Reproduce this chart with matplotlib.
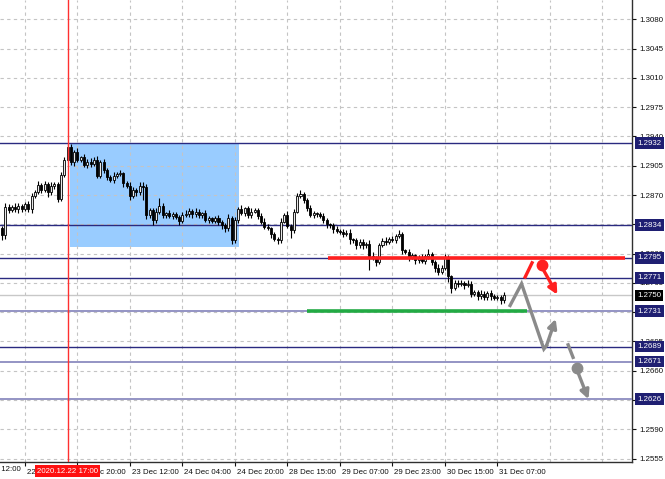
import matplotlib.pyplot as plt
import matplotlib.transforms as mtransforms
from matplotlib.patches import Rectangle, FancyArrowPatch

# === Data: hourly candles (index = bar number) ===
first_open = 1.2830
closes = [
    1.2822, 1.2856, 1.2852, 1.2856, 1.2853, 1.2857, 1.2853, 1.2859, 1.2853, 1.2869,
    1.2873, 1.2882, 1.2876, 1.2883, 1.2873, 1.2881, 1.2883, 1.2865, 1.2894, 1.2912,
    1.2927, 1.2909, 1.2921, 1.2912, 1.2915, 1.2906, 1.2910, 1.2907, 1.2912, 1.2893,
    1.2909, 1.2900, 1.2891, 1.2888, 1.2893, 1.2895, 1.2896, 1.2884, 1.2881, 1.2869,
    1.2876, 1.2873, 1.2881, 1.2880, 1.2846, 1.2852, 1.2840, 1.2850, 1.2857, 1.2846,
    1.2848, 1.2845, 1.2847, 1.2844, 1.2839, 1.2846, 1.2847, 1.2851, 1.2847, 1.2850,
    1.2846, 1.2848, 1.2840, 1.2842, 1.2839, 1.2842, 1.2838, 1.2834, 1.2830, 1.2842,
    1.2816, 1.2840, 1.2853, 1.2848, 1.2854, 1.2846, 1.2850, 1.2852, 1.2845, 1.2838,
    1.2832, 1.2830, 1.2823, 1.2818, 1.2816, 1.2838, 1.2846, 1.2833, 1.2828, 1.2850,
    1.2869, 1.2871, 1.2864, 1.2854, 1.2846, 1.2848, 1.2847, 1.2845, 1.2840, 1.2835,
    1.2834, 1.2829, 1.2827, 1.2826, 1.2824, 1.2825, 1.2817, 1.2816, 1.2810, 1.2814,
    1.2810, 1.2812, 1.2797, 1.2795, 1.2790, 1.2810, 1.2815, 1.2814, 1.2817, 1.2816,
    1.2821, 1.2823, 1.2804, 1.2802, 1.2796, 1.2798, 1.2792, 1.2795, 1.2791, 1.2797,
    1.2799, 1.2790, 1.2783, 1.2778, 1.2783, 1.2795, 1.2773, 1.2759, 1.2765, 1.2764,
    1.2765, 1.2762, 1.2764, 1.2752, 1.2754, 1.2749, 1.2752, 1.2748, 1.2753, 1.2749,
    1.2747, 1.2748, 1.2744, 1.2750,
]
# wick lengths in pips beyond the body
wick_up = [
    3, 4, 3, 2, 4, 3, 2, 3, 4, 3,
    3, 5, 2, 4, 3, 4, 3, 2, 3, 4,
    5, 4, 3, 5, 2, 4, 3, 4, 3, 5,
    3, 4, 2, 3, 5, 3, 4, 2, 3, 4,
    3, 2, 4, 4, 3, 3, 2, 4, 10, 3,
    2, 4, 3, 3, 2, 4, 5, 3, 2, 4,
    3, 2, 4, 3, 2, 3, 4, 2, 3, 5,
    3, 4, 3, 5, 2, 3, 4, 3, 2, 3,
    4, 3, 2, 3, 2, 4, 3, 5, 2, 3,
    4, 5, 3, 2, 4, 3, 2, 3, 4, 3,
    2, 3, 4, 2, 3, 3, 4, 2, 3, 4,
    3, 2, 4, 5, 2, 3, 4, 5, 3, 4,
    3, 5, 3, 2, 4, 3, 2, 3, 4, 3,
    6, 3, 2, 4, 3, 4, 3, 2, 3, 4,
    3, 2, 4, 3, 3, 2, 4, 3, 2, 3,
    3, 2, 3, 4,
]
wick_dn = [
    6, 4, 3, 2, 3, 4, 3, 2, 3, 4,
    3, 2, 4, 3, 5, 3, 4, 3, 2, 3,
    2, 3, 4, 3, 2, 3, 4, 3, 2, 3,
    3, 4, 3, 2, 4, 3, 2, 4, 3, 5,
    3, 4, 3, 16, 5, 3, 6, 4, 3, 4,
    3, 2, 4, 3, 5, 3, 2, 3, 4, 3,
    4, 3, 2, 4, 3, 3, 4, 5, 4, 3,
    5, 3, 4, 2, 3, 4, 3, 2, 4, 3,
    3, 2, 4, 3, 4, 3, 2, 3, 9, 3,
    2, 3, 4, 3, 2, 4, 3, 2, 3, 4,
    3, 4, 2, 3, 4, 3, 5, 3, 4, 3,
    4, 3, 16, 3, 5, 3, 2, 4, 3, 2,
    3, 2, 4, 3, 5, 3, 4, 3, 2, 4,
    3, 4, 5, 3, 2, 3, 7, 6, 3, 4,
    3, 4, 2, 4, 3, 5, 3, 4, 3, 4,
    3, 2, 4, 3,
]

time_ticks = [-9, 7, 23, 39, 55, 71, 87, 103, 119, 135, 151]
time_labels = ["21 Dec 12:00", "22 Dec 04:00", "22 Dec 20:00", "23 Dec 12:00",
               "24 Dec 04:00", "24 Dec 20:00", "28 Dec 15:00", "29 Dec 07:00",
               "29 Dec 23:00", "30 Dec 15:00", "31 Dec 07:00"]
extra_grid_times = [167, 183]
price_ticks = [1.3080, 1.3045, 1.3010, 1.2975, 1.2940, 1.2905, 1.2870, 1.2835,
               1.2800, 1.2765, 1.2730, 1.2695, 1.2660, 1.2625, 1.2590, 1.2555]

levels = [1.2932, 1.2834, 1.2795, 1.2771, 1.2731, 1.2689, 1.2671, 1.2626]
levels_light = [1.2731, 1.2671, 1.2626]
bid_price = 1.2750

marker_bar = 20
marker_label = "2020.12.22 17:00"

zone_bars = (20.7, 72.3)
zone_prices = (1.2808, 1.2932)

red_level, red_bars = 1.2795, (99.4, 190.0)
green_level, green_bars = 1.2731, (93.0, 160.0)

# forecast drawings (bar, price)
gray_path_x = [154.9, 158.4, 165.2, 166.0]
gray_path_y = [1.2738, 1.2764, 1.2686, 1.2690]
gray_arrow1 = ((166.0, 1.2690), (168.8, 1.2722))
red_dash = ((159.5, 1.2772), (161.6, 1.2789))
red_dot = (164.6, 1.2786)
red_arrow = ((165.0, 1.2781), (169.3, 1.2751))
gray_dash = ((172.6, 1.2691), (174.1, 1.2676))
gray_dot = (175.3, 1.2663)
gray_arrow2 = ((175.6, 1.2658), (178.8, 1.2626))

# === Figure ===
fig = plt.figure(figsize=(6.65, 4.79), dpi=100)
ax = fig.add_axes([0, 17 / 479, 632 / 665, 462 / 479])

navy = '#1f1f72'
grid_kw = dict(color='#c4c4c4', lw=0.8, ls=(0, (3, 3)), zorder=1)
for t in time_ticks + extra_grid_times:
    ax.axvline(t, **grid_kw)
for p in price_ticks:
    ax.axhline(p, **grid_kw)

# selection zone
ax.add_patch(Rectangle((zone_bars[0], zone_prices[0]), zone_bars[1] - zone_bars[0],
                       zone_prices[1] - zone_prices[0], facecolor='#99ccff',
                       edgecolor='none', zorder=0.5))

# bid line
ax.axhline(bid_price, color='#c8c8c8', lw=1, zorder=1.5)

# candles
opens = [first_open] + closes[:-1]
for i, (o, c) in enumerate(zip(opens, closes)):
    hi = max(o, c) + wick_up[i] * 0.0001
    lo = min(o, c) - wick_dn[i] * 0.0001
    ax.vlines(i, lo, hi, color='black', lw=0.8, zorder=4)
    h = max(abs(c - o), 0.00005)
    ax.bar(i, h, bottom=min(o, c), width=0.62,
           facecolor='#e8e8e8' if c >= o else 'black',
           edgecolor='black', linewidth=0.6, zorder=4.5)

# horizontal levels
for lv in levels:
    if lv in levels_light:
        ax.axhline(lv, color='#9494c4', lw=1.4, zorder=3)
    else:
        ax.axhline(lv, color='#2a2a80', lw=1.0, zorder=3)

ax.plot(red_bars, [red_level] * 2, color='#ff2020', lw=2.6, zorder=5,
        solid_capstyle='butt')
ax.plot(green_bars, [green_level] * 2, color='#22aa44', lw=2.6, zorder=5,
        solid_capstyle='butt')

# vertical marker
ax.axvline(marker_bar, color='#ff3030', lw=1, zorder=5)

# forecast drawings
gray = '#8a8a8a'
ax.plot(gray_path_x, gray_path_y, color=gray, lw=2.4, zorder=6,
        solid_joinstyle='miter')
for (a, b), col in [(gray_arrow1, gray), (red_arrow, '#ff2020'), (gray_arrow2, gray)]:
    ax.add_patch(FancyArrowPatch(a, b, arrowstyle='-|>', mutation_scale=13,
                                 color=col, lw=2.4, zorder=6, shrinkA=0, shrinkB=0))
ax.plot([red_dash[0][0], red_dash[1][0]], [red_dash[0][1], red_dash[1][1]],
        color='#ff2020', lw=2.4, zorder=6)
ax.plot([gray_dash[0][0], gray_dash[1][0]], [gray_dash[0][1], gray_dash[1][1]],
        color=gray, lw=2.4, zorder=6)
ax.plot(*red_dot, 'o', color='#ff2020', ms=7.5, zorder=7)
ax.plot(*gray_dot, 'o', color=gray, ms=7.5, zorder=7)

# === Axes styling ===
for side in ['left', 'top']:
    ax.spines[side].set_visible(False)
for side in ['right', 'bottom']:
    ax.spines[side].set_color('#303030')
    ax.spines[side].set_linewidth(1)

font = 'Liberation Sans'
fs = 5.7
ax.yaxis.tick_right()
ax.set_yticks(price_ticks)
ax.set_yticklabels([f'{p:.4f}' for p in price_ticks], fontsize=fs, family=font)
ax.tick_params(axis='y', length=3, width=0.8, pad=2, colors='#101010')

# visible time ticks get axis labels; the first one sits left of the frame
ax.set_xticks(time_ticks[1:])
ax.set_xticklabels(time_labels[1:], fontsize=fs, family=font, ha='left')
ax.tick_params(axis='x', length=3, width=0.8, pad=2, colors='#101010')
offset = mtransforms.ScaledTranslation(2 / 100, 0, fig.dpi_scale_trans)
for lab in ax.get_xticklabels():
    lab.set_transform(lab.get_transform() + offset)

# limits after the ticks, so they are not widened
ax.set_xlim(-0.61, 192.07)
ax.set_ylim(1.2551, 1.3103)

xtrans = mtransforms.blended_transform_factory(ax.transData, ax.transAxes)
ax.text(time_ticks[0], -0.0095, time_labels[0], transform=xtrans + offset,
        fontsize=fs, family=font, color='#101010', va='top', ha='left',
        clip_on=False)

# price boxes on the right scale
ytrans = mtransforms.blended_transform_factory(ax.transAxes, ax.transData)
box_x = 1 + 5 / 632
for lv in levels:
    ax.text(box_x, lv, f'{lv:.4f}', transform=ytrans, fontsize=fs, family=font,
            color='white', va='center', ha='left', clip_on=False, zorder=10,
            bbox=dict(boxstyle='square,pad=0.3', fc=navy, ec='none'))
ax.text(box_x, bid_price, f'{bid_price:.4f}', transform=ytrans, fontsize=fs,
        family=font, color='white', va='center', ha='left', clip_on=False,
        zorder=10, bbox=dict(boxstyle='square,pad=0.3', fc='black', ec='none'))

# time marker box
ax.text(marker_bar, -0.012, marker_label, transform=xtrans, fontsize=fs,
        family=font, color='white', va='top', ha='center', clip_on=False,
        zorder=10, bbox=dict(boxstyle='square,pad=0.3', fc='#ff1010', ec='none'))

plt.savefig('out.png', dpi=100)
